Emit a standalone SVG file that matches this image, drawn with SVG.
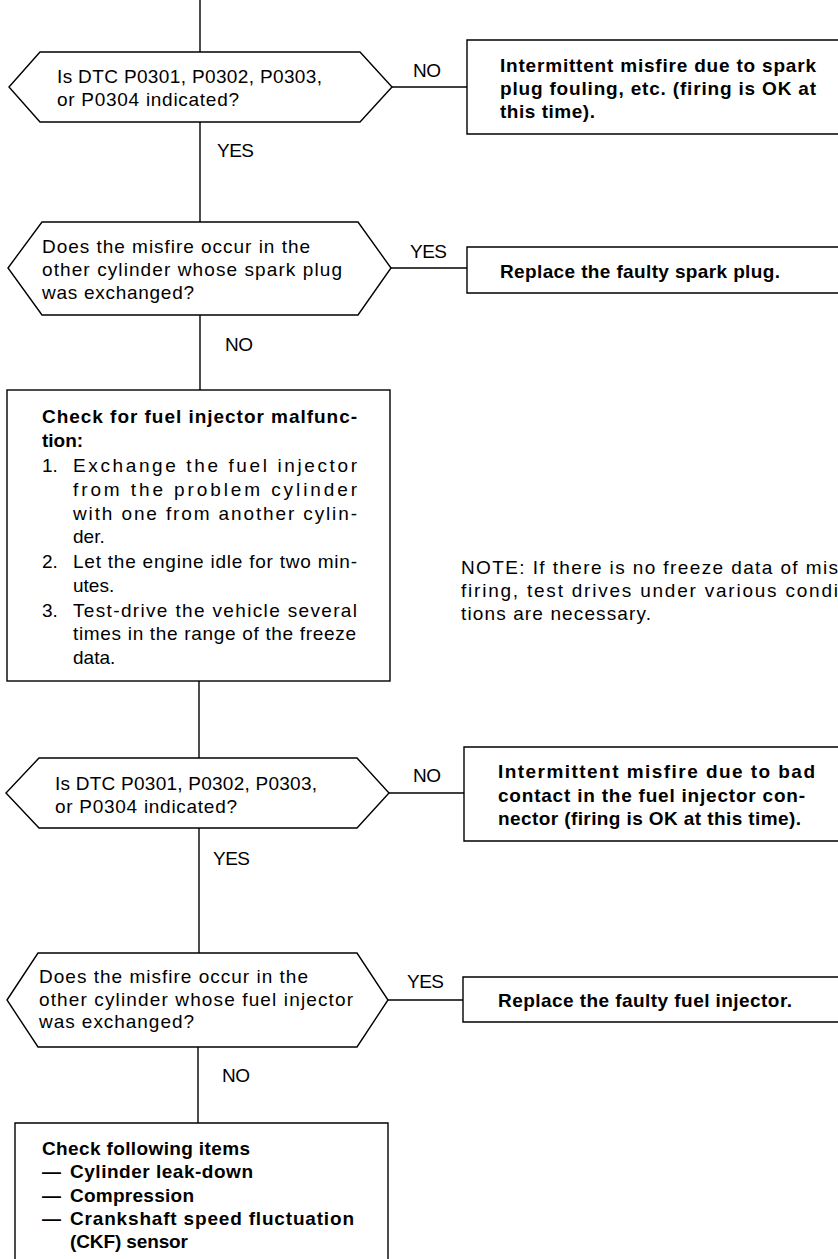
<svg xmlns="http://www.w3.org/2000/svg" width="838" height="1259" viewBox="0 0 838 1259">
<style>
.s{fill:none;stroke:#000;stroke-width:1.4}
.t{font-family:"Liberation Sans",Arial,sans-serif;font-size:19px;fill:#000}
.b{font-family:"Liberation Sans",Arial,sans-serif;font-size:19px;font-weight:bold;fill:#000}
</style>
<rect width="838" height="1259" fill="#fff"/>
<g id="connectors">
<path class="s" d="M200,0 V52"/>
<path class="s" d="M200,122 V222"/>
<path class="s" d="M392,87 H467"/>
<path class="s" d="M391,268 H467"/>
<path class="s" d="M200,315 V390"/>
<path class="s" d="M199,681 V758"/>
<path class="s" d="M389,793 H464"/>
<path class="s" d="M199,828 V953"/>
<path class="s" d="M388,1000 H463"/>
<path class="s" d="M198,1047 V1123"/>
<text class="t" x="217" y="157" textLength="37">YES</text>
<text class="t" x="413" y="77" textLength="28">NO</text>
<text class="t" x="410" y="258" textLength="37">YES</text>
<text class="t" x="225" y="351" textLength="28">NO</text>
<text class="t" x="413" y="782" textLength="28">NO</text>
<text class="t" x="213" y="865" textLength="37">YES</text>
<text class="t" x="407" y="988" textLength="37">YES</text>
<text class="t" x="222" y="1082" textLength="28">NO</text>
</g>
<g id="d1">
<polygon class="s" points="9,87 40,52 360,52 392,87 360,122 40,122"/>
<text class="t" x="57" y="83" textLength="265">Is DTC P0301, P0302, P0303,</text>
<text class="t" x="57" y="106" textLength="182">or P0304 indicated?</text>
</g>
<g id="b1">
<path class="s" d="M838,40 H467 V134 H838"/>
<text class="b" x="500" y="72" textLength="316">Intermittent misfire due to spark</text>
<text class="b" x="500" y="95" textLength="316">plug fouling, etc. (firing is OK at</text>
<text class="b" x="500" y="118" textLength="95">this time).</text>
</g>
<g id="d2">
<polygon class="s" points="8,268 42,222 358,222 391,268 358,315 42,315"/>
<text class="t" x="42" y="253" textLength="268">Does the misfire occur in the</text>
<text class="t" x="42" y="276" textLength="300">other cylinder whose spark plug</text>
<text class="t" x="42" y="299" textLength="152">was exchanged?</text>
</g>
<g id="b2">
<path class="s" d="M838,247 H467 V293 H838"/>
<text class="b" x="500" y="278" textLength="280">Replace the faulty spark plug.</text>
</g>
<g id="b3">
<rect class="s" x="7" y="390" width="383" height="291"/>
<text class="b" x="42" y="423" textLength="315">Check for fuel injector malfunc-</text>
<text class="b" x="42" y="447">tion:</text>
<text class="t" x="42" y="472">1.</text>
<text class="t" x="73" y="472" textLength="284">Exchange the fuel injector</text>
<text class="t" x="73" y="496" textLength="284">from the problem cylinder</text>
<text class="t" x="73" y="520" textLength="284">with one from another cylin-</text>
<text class="t" x="73" y="543">der.</text>
<text class="t" x="42" y="568">2.</text>
<text class="t" x="73" y="568" textLength="284">Let the engine idle for two min-</text>
<text class="t" x="73" y="592">utes.</text>
<text class="t" x="42" y="617">3.</text>
<text class="t" x="73" y="617" textLength="284">Test-drive the vehicle several</text>
<text class="t" x="73" y="640" textLength="283">times in the range of the freeze</text>
<text class="t" x="73" y="664">data.</text>
</g>
<g id="note">
<text class="t" x="461" y="574" textLength="377">NOTE: If there is no freeze data of mis</text>
<text class="t" x="461" y="597" textLength="377">firing, test drives under various condi</text>
<text class="t" x="461" y="620" textLength="190">tions are necessary.</text>
</g>
<g id="d3">
<polygon class="s" points="6,793 39,758 357,758 389,793 357,828 39,828"/>
<text class="t" x="55" y="790" textLength="262">Is DTC P0301, P0302, P0303,</text>
<text class="t" x="55" y="813" textLength="182">or P0304 indicated?</text>
</g>
<g id="b4">
<path class="s" d="M838,747 H464 V841 H838"/>
<text class="b" x="498" y="778" textLength="317">Intermittent misfire due to bad</text>
<text class="b" x="498" y="802" textLength="307">contact in the fuel injector con-</text>
<text class="b" x="498" y="825" textLength="303">nector (firing is OK at this time).</text>
</g>
<g id="d4">
<polygon class="s" points="7,1000 38,953 357,953 388,1000 357,1047 38,1047"/>
<text class="t" x="39" y="983" textLength="269">Does the misfire occur in the</text>
<text class="t" x="39" y="1006" textLength="314">other cylinder whose fuel injector</text>
<text class="t" x="39" y="1028" textLength="155">was exchanged?</text>
</g>
<g id="b6">
<path class="s" d="M838,977 H463 V1022 H838"/>
<text class="b" x="498" y="1007" textLength="294">Replace the faulty fuel injector.</text>
</g>
<g id="b5">
<path class="s" d="M15,1259 V1123 H388 V1259"/>
<text class="b" x="42" y="1155" textLength="208">Check following items</text>
<text class="b" x="42" y="1178">—</text>
<text class="b" x="70" y="1178" textLength="183">Cylinder leak-down</text>
<text class="b" x="42" y="1202">—</text>
<text class="b" x="70" y="1202" textLength="124">Compression</text>
<text class="b" x="42" y="1225">—</text>
<text class="b" x="70" y="1225" textLength="284">Crankshaft speed fluctuation</text>
<text class="b" x="70" y="1248" textLength="118">(CKF) sensor</text>
</g>
</svg>
